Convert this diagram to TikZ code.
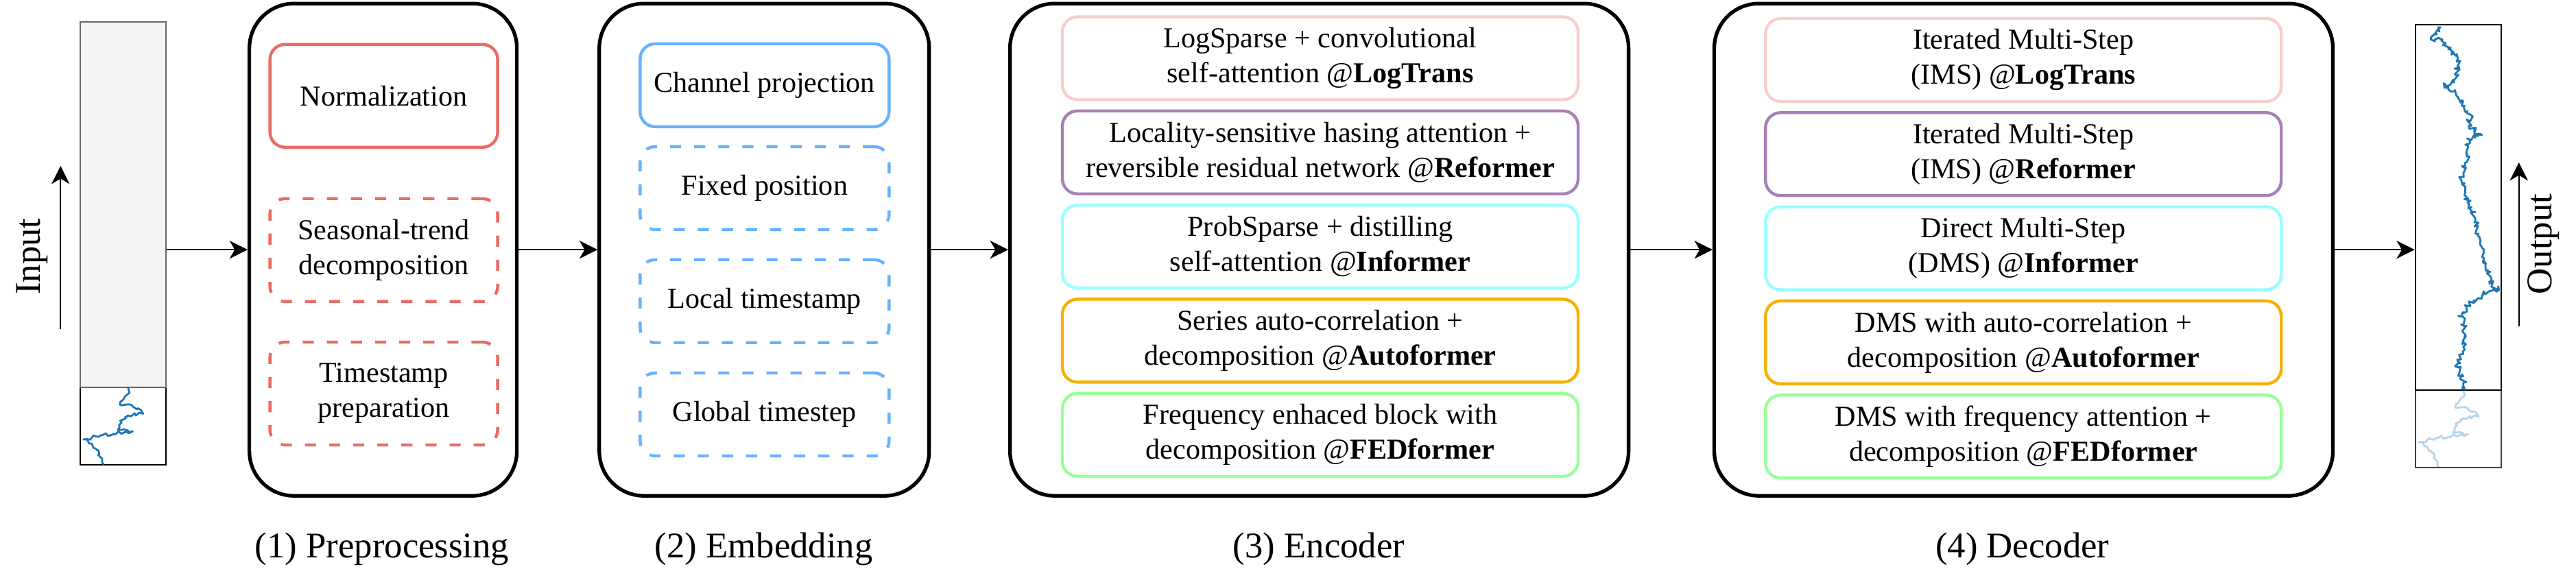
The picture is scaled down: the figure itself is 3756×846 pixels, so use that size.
\documentclass[tikz,border=0pt]{standalone}
\usepackage{fontspec}
\setmainfont{Liberation Serif}
\usetikzlibrary{arrows.meta,positioning,decorations.pathmorphing}
\definecolor{boxred}{HTML}{EA6B66}
\definecolor{boxblue}{HTML}{66B2FF}
\definecolor{logpink}{HTML}{F8CECC}
\definecolor{refpurple}{HTML}{A680B8}
\definecolor{infcyan}{HTML}{99FFFF}
\definecolor{autoorange}{HTML}{F8B000}
\definecolor{fedgreen}{HTML}{99FF99}
\definecolor{series}{HTML}{1F77B4}
\definecolor{serieslight}{HTML}{B8D4EA}
\definecolor{histgray}{HTML}{F5F5F5}
\definecolor{histedge}{HTML}{666666}

\begin{document}
\begin{tikzpicture}[
  x=0.1mm,y=-0.1mm,
  every node/.style={font={\fontsize{12}{14.5}\selectfont}},
  stage/.style={draw,line width=1.5pt,rounded corners=6.5mm,minimum width=#1,minimum height=71.8mm},
  prep/.style={draw=boxred,line width=1.25pt,rounded corners=2.2mm,minimum width=33.2mm,minimum height=15mm,align=center},
  prepdash/.style={prep,dash pattern=on 4.6pt off 5.4pt},
  embed/.style={draw=boxblue,line width=1.25pt,rounded corners=2.2mm,minimum width=36.3mm,minimum height=12.1mm,align=center},
  embeddash/.style={embed,dash pattern=on 4.6pt off 5.4pt},
  model/.style={draw=#1,line width=1.25pt,rounded corners=2.2mm,minimum width=75.2mm,minimum height=12.1mm,align=center},
  caption/.style={font={\fontsize{15}{18}\selectfont}},
  arrow/.style={-{Stealth[length=7.5pt,width=7.5pt,inset=2.2pt]},line width=0.65pt},
  column/.style={draw,line width=0.6pt,minimum width=12.5mm,inner sep=0pt},
  jitter/.style 2 args={decorate,decoration={random steps,segment length=#1,amplitude=#2},line width=0.8pt,line join=round},
  past/.style={insert path={(70,565) -- (72,573) -- (63,583) -- (58,590) -- (77,593) -- (92,603) -- (66,608) -- (57,620) -- (55,627) -- (77,629) -- (30,635) -- (5,641) -- (17,647) -- (27,657) -- (30,667) -- (35,677)}}
]
\useasboundingbox (0,0) rectangle (3756,846);

% stages
\node[stage=39mm] (pre) at (558.6,364.2) {};
\node[stage=48.1mm] (emb) at (1114.3,364.2) {};
\node[stage=90.2mm] (enc) at (1923.6,364.2) {};
\node[stage=90.2mm] (dec) at (2950.5,364.2) {};

% preprocessing
\node[prep] (norm) at (559.6,139.8) {Normalization};
\node[prepdash] (trend) at (559.6,364.8) {Seasonal-trend\\decomposition};
\node[prepdash] (stamp) at (559.6,574) {Timestamp\\preparation};

% embedding
\node[embed] (chan) at (1114.8,124.4) {Channel projection};
\node[embeddash] (fixpos) at (1114.8,274.4) {Fixed position};
\node[embeddash] (localts) at (1114.8,439.3) {Local timestamp};
\node[embeddash] (globalts) at (1114.8,604.5) {Global timestep};

% encoder
\node[model=logpink] (enclog) at (1925,85) {LogSparse + convolutional\\self-attention @\textbf{LogTrans}};
\node[model=refpurple] (encref) at (1925,222.3) {Locality-sensitive hasing attention +\\reversible residual network @\textbf{Reformer}};
\node[model=infcyan] (encinf) at (1925,359.6) {ProbSparse + distilling\\self-attention @\textbf{Informer}};
\node[model=autoorange] (encauto) at (1925,496.9) {Series auto-correlation +\\decomposition @\textbf{Autoformer}};
\node[model=fedgreen] (encfed) at (1925,634.2) {Frequency enhaced block with\\decomposition @\textbf{FEDformer}};

% decoder
\node[model=logpink] (declog) at (2950.2,87.5) {Iterated Multi-Step\\(IMS) @\textbf{LogTrans}};
\node[model=refpurple] (decref) at (2950.2,224.8) {Iterated Multi-Step\\(IMS) @\textbf{Reformer}};
\node[model=infcyan] (decinf) at (2950.2,362.1) {Direct Multi-Step\\(DMS) @\textbf{Informer}};
\node[model=autoorange] (decauto) at (2950.2,499.4) {DMS with auto-correlation +\\decomposition @\textbf{Autoformer}};
\node[model=fedgreen] (decfed) at (2950.2,636.7) {DMS with frequency attention +\\decomposition @\textbf{FEDformer}};

% captions
\node[caption] (precap) at (557,801) {(1) Preprocessing};
\node[caption] (embcap) at (1113.6,801) {(2) Embedding};
\node[caption] (enccap) at (1923,801) {(3) Encoder};
\node[caption] (deccap) at (2948.7,801) {(4) Decoder};

% input series
\node[column,minimum height=11.3mm] (inpast) at (179.2,621.5) {};
\begin{scope}[shift={(116.7,0)}]
  \pgfmathsetseed{11}
  \draw[series,jitter={0.4mm}{0.3mm},past];
\end{scope}
\node[column,fill=histgray,draw=histedge,minimum height=53.3mm] (infut) at (179.2,298.5) {};
\coordinate (inbot) at (88.3,480);
\coordinate (intop) at (88.3,242);
\draw[arrow] (inbot) -- (intop);
\node[caption,rotate=90] (inlabel) at (47,374) {Input};

% output series
\begin{scope}[shift={(3521.7,4)}]
  \pgfmathsetseed{11}
  \draw[serieslight,jitter={0.4mm}{0.3mm},past];
\end{scope}
\node[column,draw=black!75,minimum height=11.3mm] (outpast) at (3584.2,625.5) {};
\node[column,minimum height=53.3mm] (outfut) at (3584.2,302.5) {};
\begin{scope}[shift={(3521.7,0)}]
  \pgfmathsetseed{5}
  \draw[series,jitter={0.28mm}{0.45mm}] (68,569) -- (70,558) -- (63,536) -- (58,534) -- (72,510) -- (73,488) -- (67,462) -- (75,447) -- (85,438) -- (98,430) -- (122,423) -- (110,412) -- (105,397) -- (100,376) -- (95,358) -- (92,341) -- (85,315) -- (78,297) -- (73,280) -- (68,258) -- (72,245) -- (75,228) -- (73,211) -- (85,198) -- (97,197) -- (78,185) -- (80,167) -- (68,146) -- (58,133) -- (42,124) -- (58,115) -- (63,94) -- (62,85) -- (48,72) -- (38,59) -- (23,54) -- (35,46) -- (37,39);
\end{scope}
\coordinate (outbot) at (3672.7,476);
\coordinate (outtop) at (3672.7,237);
\draw[arrow] (outbot) -- (outtop);
\node[caption,rotate=90] (outlabel) at (3709,356) {Output};

% flow
\draw[arrow] (pre.west -| infut.east) -- (pre.west);
\draw[arrow] (pre.east) -- (emb.west);
\draw[arrow] (emb.east) -- (enc.west);
\draw[arrow] (enc.east) -- (dec.west);
\draw[arrow] (dec.east) -- (dec.east -| outfut.west);
\end{tikzpicture}
\end{document}
